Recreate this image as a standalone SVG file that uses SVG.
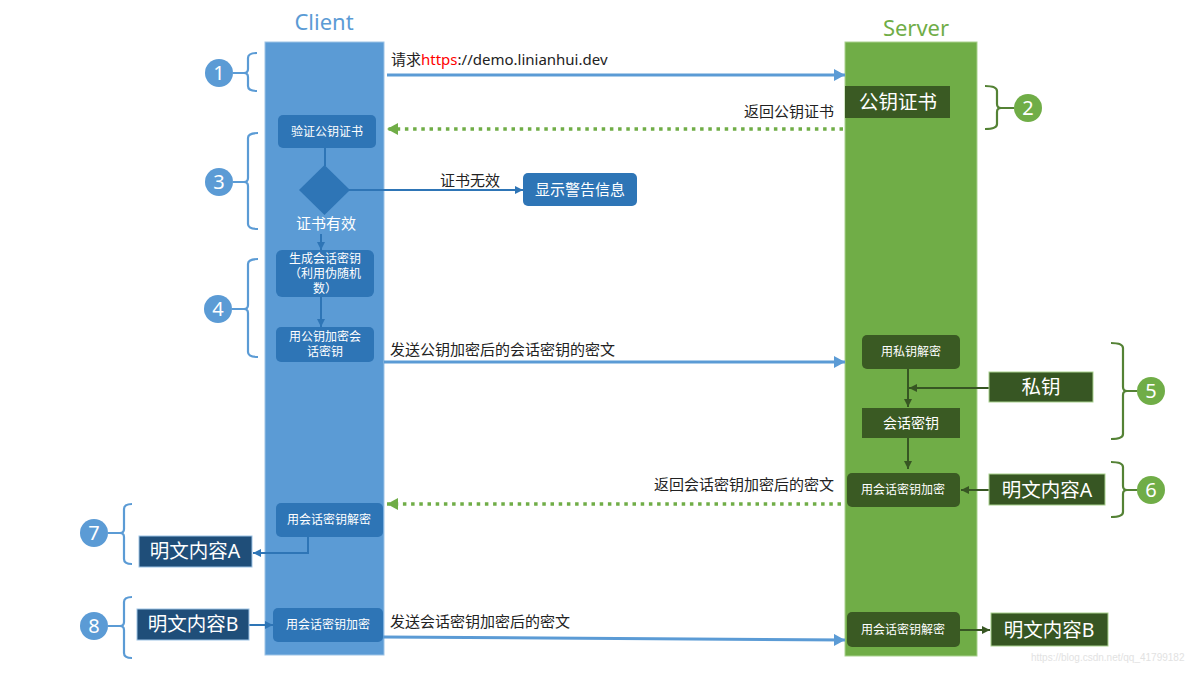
<svg xmlns="http://www.w3.org/2000/svg" width="1185" height="688" viewBox="0 0 1185 688">
<style>
text{font-family:"Noto Sans","Noto Sans CJK SC",sans-serif}
.lbl{font-size:15px;fill:#222}
.w{fill:#fff;text-anchor:middle}
.s12{font-size:12px}
.s14{font-size:14px}
.s15{font-size:15px}
.s19{font-size:19.5px}
.cbox{fill:#2E75B6}
.obox{fill:#1F4E79;stroke:#9DC3E6;stroke-width:1}
.sbox{fill:#3A5A23}
.gbox{fill:#375623;stroke:#A9D18E;stroke-width:1}
.big{stroke:#5B9BD5;stroke-width:3;fill:none}
.dot{stroke:#70AD47;stroke-width:3.5;stroke-dasharray:3.5 4.7;fill:none}
.cl{stroke:#2E75B6;stroke-width:2;fill:none}
.sl{stroke:#375623;stroke-width:2;fill:none}
.bb{stroke:#5B9BD5;stroke-width:2.2;fill:none}
.gb{stroke:#548235;stroke-width:2.2;fill:none}
.num{font-size:20px;fill:#fff;text-anchor:middle}
</style>
<defs>
<marker id="aBig" markerUnits="userSpaceOnUse" markerWidth="11" markerHeight="12" refX="11" refY="6" orient="auto"><path d="M0,0 L11,6 L0,12 z" fill="#5B9BD5"/></marker>
<marker id="aGr" markerUnits="userSpaceOnUse" markerWidth="11" markerHeight="12" refX="11" refY="6" orient="auto"><path d="M0,0 L11,6 L0,12 z" fill="#70AD47"/></marker>
<marker id="aCl" markerUnits="userSpaceOnUse" markerWidth="8" markerHeight="8" refX="8" refY="4" orient="auto"><path d="M0,0 L8,4 L0,8 z" fill="#2E75B6"/></marker>
<marker id="aSl" markerUnits="userSpaceOnUse" markerWidth="8" markerHeight="8" refX="8" refY="4" orient="auto"><path d="M0,0 L8,4 L0,8 z" fill="#375623"/></marker>
</defs>
<rect width="1185" height="688" fill="#fff"/>

<g id="client-lane">
<text x="324" y="30" font-size="22" fill="#5B9BD5" text-anchor="middle">Client</text>
<rect x="265" y="42" width="119" height="613" fill="#5B9BD5" stroke="#9DC3E6" stroke-width="1"/>
</g>
<g id="server-lane">
<text x="916" y="36" font-size="22" fill="#70AD47" text-anchor="middle">Server</text>
<rect x="845" y="42" width="132" height="614" fill="#70AD47" stroke="#A9D18E" stroke-width="1"/>
</g>

<g id="connectors">
<line class="big" x1="387" y1="75" x2="845" y2="75" marker-end="url(#aBig)"/>
<line class="dot" x1="843" y1="129" x2="387" y2="129" marker-end="url(#aGr)"/>
<line class="cl" x1="325" y1="148" x2="325" y2="166"/>
<line class="cl" x1="349" y1="190" x2="523" y2="190" marker-end="url(#aCl)"/>
<line class="cl" x1="321" y1="234" x2="321" y2="250" marker-end="url(#aCl)"/>
<line class="cl" x1="321" y1="297" x2="321" y2="327" marker-end="url(#aCl)"/>
<line class="big" x1="384" y1="362" x2="845" y2="362" marker-end="url(#aBig)"/>
<line class="sl" x1="908" y1="369" x2="908" y2="407" marker-end="url(#aSl)"/>
<line class="sl" x1="989" y1="388" x2="909" y2="388" marker-end="url(#aSl)"/>
<line class="sl" x1="908" y1="438" x2="908" y2="469" marker-end="url(#aSl)"/>
<line class="sl" x1="989" y1="490" x2="961" y2="490" marker-end="url(#aSl)"/>
<line class="dot" x1="841" y1="504" x2="387" y2="504" marker-end="url(#aGr)"/>
<polyline class="cl" points="308,537 308,553 253,553" marker-end="url(#aCl)"/>
<line class="cl" x1="249" y1="625" x2="273" y2="625" marker-end="url(#aCl)"/>
<line class="big" x1="383" y1="637" x2="845" y2="640" marker-end="url(#aBig)"/>
<line class="sl" x1="960" y1="630" x2="990" y2="630" marker-end="url(#aSl)"/>
</g>

<g id="labels">
<text class="lbl" x="391" y="65">请求<tspan fill="#FF0000">https</tspan>://demo.linianhui.dev</text>
<text class="lbl" x="834" y="117" text-anchor="end">返回公钥证书</text>
<text class="lbl" x="470" y="186" text-anchor="middle">证书无效</text>
<text class="lbl" x="390" y="355">发送公钥加密后的会话密钥的密文</text>
<text class="lbl" x="834" y="490" text-anchor="end">返回会话密钥加密后的密文</text>
<text class="lbl" x="390" y="627">发送会话密钥加密后的密文</text>
</g>

<g id="n-verify"><rect class="cbox" x="278" y="115" width="98" height="33" rx="5"/><text class="w s12" x="327" y="136">验证公钥证书</text></g>
<g id="n-decision"><path d="M324.5,165 L350,190 L324.5,215 L299,190 z" fill="#2E75B6"/><text class="w s15" x="326" y="229">证书有效</text></g>
<g id="n-warn"><rect class="cbox" x="523" y="173" width="114" height="33" rx="5"/><text class="w s15" x="580" y="195">显示警告信息</text></g>
<g id="n-gen"><rect class="cbox" x="276" y="250" width="98" height="47" rx="6"/><text class="w s12" x="325" y="263">生成会话密钥</text><text class="w s12" x="325" y="278">（利用伪随机</text><text class="w s12" x="325" y="293">数）</text></g>
<g id="n-enc"><rect class="cbox" x="276" y="327" width="98" height="35" rx="5"/><text class="w s12" x="325" y="341">用公钥加密会</text><text class="w s12" x="325" y="356">话密钥</text></g>
<g id="n-cdec"><rect class="cbox" x="276" y="503" width="107" height="34" rx="5"/><text class="w s12" x="329" y="524">用会话密钥解密</text></g>
<g id="n-plainA-c"><rect class="obox" x="139" y="536" width="113" height="31"/><text class="w s19" x="195" y="558">明文内容A</text></g>
<g id="n-plainB-c"><rect class="obox" x="137" y="609" width="112" height="31"/><text class="w s19" x="193" y="631">明文内容B</text></g>
<g id="n-cenc"><rect class="cbox" x="273" y="608" width="110" height="34" rx="5"/><text class="w s12" x="328" y="629">用会话密钥加密</text></g>

<g id="n-cert"><rect class="sbox" x="845" y="86" width="105" height="32"/><text class="w s19" x="898" y="109">公钥证书</text></g>
<g id="n-sdec"><rect class="sbox" x="862" y="335" width="98" height="34" rx="5"/><text class="w s12" x="911" y="356">用私钥解密</text></g>
<g id="n-privkey"><rect class="gbox" x="989" y="372" width="104" height="30"/><text class="w s19" x="1041" y="394">私钥</text></g>
<g id="n-sesskey"><rect class="sbox" x="862" y="408" width="98" height="30"/><text class="w s14" x="911" y="428">会话密钥</text></g>
<g id="n-senc"><rect class="sbox" x="847" y="473" width="113" height="34" rx="5"/><text class="w s12" x="903" y="494">用会话密钥加密</text></g>
<g id="n-plainA-s"><rect class="gbox" x="989" y="474" width="116" height="31"/><text class="w s19" x="1047" y="497">明文内容A</text></g>
<g id="n-sdec2"><rect class="sbox" x="847" y="612" width="113" height="35" rx="5"/><text class="w s12" x="903" y="634">用会话密钥解密</text></g>
<g id="n-plainB-s"><rect class="gbox" x="991" y="613" width="117" height="33"/><text class="w s19" x="1049" y="637">明文内容B</text></g>

<g id="step1"><path class="bb" d="M257,53 Q248,53 248,58 V69 Q248,73 244,73 Q248,73 248,77 V86 Q248,91 257,91 M244,73 H233"/><circle cx="219" cy="73" r="14" fill="#5B9BD5"/><text class="num" x="219" y="80">1</text></g>
<g id="step3"><path class="bb" d="M258,133 Q248,133 248,138 V178 Q248,182 244,182 Q248,182 248,186 V224 Q248,229 258,229 M244,182 H233"/><circle cx="219" cy="182" r="14" fill="#5B9BD5"/><text class="num" x="219" y="189">3</text></g>
<g id="step4"><path class="bb" d="M258,259 Q248,259 248,264 V305 Q248,309 244,309 Q248,309 248,313 V352 Q248,357 258,357 M244,309 H232"/><circle cx="218" cy="309" r="14" fill="#5B9BD5"/><text class="num" x="218" y="316">4</text></g>
<g id="step7"><path class="bb" d="M132,504 Q124,504 124,509 V529 Q124,533 120,533 Q124,533 124,537 V559 Q124,564 132,564 M120,533 H108"/><circle cx="94" cy="533" r="14" fill="#5B9BD5"/><text class="num" x="94" y="540">7</text></g>
<g id="step8"><path class="bb" d="M132,597 Q124,597 124,602 V622 Q124,626 120,626 Q124,626 124,630 V653 Q124,658 132,658 M120,626 H108"/><circle cx="94" cy="626" r="14" fill="#5B9BD5"/><text class="num" x="94" y="633">8</text></g>
<g id="step2"><path class="gb" d="M985,86 Q997,86 997,91 V104 Q997,108 1001,108 Q997,108 997,112 V124 Q997,129 985,129 M1001,108 H1014"/><circle cx="1028" cy="108" r="14" fill="#70AD47"/><text class="num" x="1028" y="115">2</text></g>
<g id="step5"><path class="gb" d="M1111,343 Q1123,343 1123,348 V387 Q1123,391 1127,391 Q1123,391 1123,395 V434 Q1123,439 1111,439 M1127,391 H1137"/><circle cx="1151" cy="391" r="14" fill="#70AD47"/><text class="num" x="1151" y="398">5</text></g>
<g id="step6"><path class="gb" d="M1111,462 Q1123,462 1123,467 V486 Q1123,490 1127,490 Q1123,490 1123,494 V512 Q1123,517 1111,517 M1127,490 H1137"/><circle cx="1151" cy="490" r="14" fill="#70AD47"/><text class="num" x="1151" y="497">6</text></g>

<text x="1031" y="661" font-size="10" fill="#E2E2E2" style="font-family:'Liberation Sans',sans-serif">https://blog.csdn.net/qq_41799182</text>
</svg>
